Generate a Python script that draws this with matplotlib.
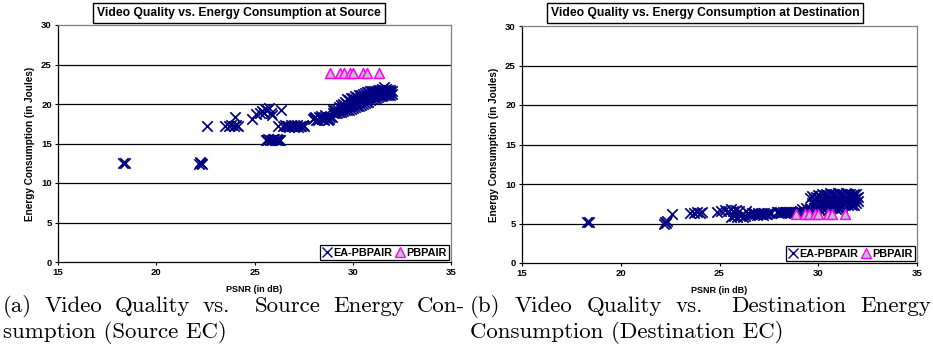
import matplotlib
matplotlib.use("Agg")
import matplotlib.pyplot as plt
from matplotlib.lines import Line2D

ANCHO, ALTO = 933, 345

x_ticks = [15, 20, 25, 30, 35]
y_ticks = [0, 5, 10, 15, 20, 25, 30]

titulo_src = "Video Quality vs. Energy Consumption at Source"
titulo_dst = "Video Quality vs. Energy Consumption at Destination"
etiqueta_x = "PSNR (in dB)"
etiqueta_y = "Energy Consumption (in Joules)"
series = ["EA-PBPAIR", "PBPAIR"]

# EA-PBPAIR en la fuente (PSNR, energia)
src_ea_psnr = [
    18.3, 18.4, 22.2, 22.3, 22.35, 22.25, 22.6, 23.5, 23.7, 23.8, 23.95, 24.05, 24.15, 24.0, 24.85,
    25.1, 25.3, 25.4, 25.5, 25.55, 25.65, 25.75, 25.85, 25.9, 26.35,
    25.6, 25.7, 25.8, 25.9, 26.0, 26.1, 26.2, 26.3, 25.65, 25.95, 26.15, 26.25,
    26.2, 26.45, 26.6, 26.75, 26.9, 27.05, 27.2, 27.35, 27.5,
    26.55, 26.7, 26.85, 27.0, 27.15, 27.3, 27.45,
    28.0, 28.1, 28.25, 28.4, 28.55, 28.7, 28.8, 28.95, 28.4, 28.6,
    28.05, 28.15, 28.3, 28.45, 28.6, 28.75, 28.85,
    29.0, 29.0, 29.2, 29.2, 29.4, 29.4, 29.4, 29.6, 29.6, 29.6, 29.8, 29.8, 29.8,
    30.0, 30.0, 30.0, 30.2, 30.2, 30.2, 30.4, 30.4, 30.4, 30.6, 30.6, 30.6,
    30.8, 30.8, 30.8, 31.0, 31.0, 31.0, 31.2, 31.2, 31.2, 31.4, 31.4, 31.4,
    31.6, 31.6, 31.6, 31.6, 31.8, 31.8, 31.8, 32.0, 32.0,
    29.1, 29.1, 29.3, 29.3, 29.5, 29.5, 29.5, 29.7, 29.7, 29.7, 29.9, 29.9, 29.9,
    30.1, 30.1, 30.1, 30.3, 30.3, 30.3, 30.5, 30.5, 30.5, 30.7, 30.7, 30.7,
    30.9, 30.9, 30.9, 31.1, 31.1, 31.1, 31.3, 31.3, 31.3, 31.5, 31.5, 31.5,
    31.7, 31.7, 31.7, 31.9, 31.9, 31.9,
]
src_ea_energy = [
    12.5, 12.5, 12.4, 12.5, 12.4, 12.6, 17.2, 17.2, 17.2, 17.3, 17.2, 17.3, 17.2, 18.3, 18.1,
    18.7, 18.9, 19.1, 18.8, 19.4, 19.2, 19.5, 18.9, 18.6, 19.3,
    15.5, 15.6, 15.4, 15.5, 15.6, 15.4, 15.5, 15.5, 15.4, 15.6, 15.6, 15.4,
    17.2, 17.2, 17.2, 17.1, 17.2, 17.2, 17.1, 17.2, 17.2,
    17.3, 17.2, 17.3, 17.1, 17.3, 17.2, 17.3,
    18.1, 18.3, 18.0, 18.2, 18.0, 18.3, 18.1, 18.4, 18.5, 18.6,
    18.2, 18.0, 18.3, 18.1, 18.2, 18.0, 18.4,
    18.8, 19.2, 18.9, 19.4, 19.0, 19.5, 19.9, 19.2, 19.7, 20.2, 19.3, 19.9, 20.5,
    19.5, 20.1, 20.7, 19.7, 20.3, 20.9, 19.9, 20.5, 21.2, 20.1, 20.7, 21.4,
    20.3, 20.9, 21.5, 20.6, 21.1, 21.6, 20.8, 21.3, 21.7, 21.0, 21.4, 21.8,
    21.1, 21.5, 21.8, 22.2, 21.1, 21.5, 21.8, 21.3, 21.6,
    18.9, 19.3, 19.0, 19.6, 19.1, 19.6, 20.0, 19.3, 20.0, 20.6, 19.4, 20.2, 20.8,
    19.6, 20.4, 21.0, 19.8, 20.6, 21.1, 20.0, 20.8, 21.3, 20.2, 21.0, 21.5,
    20.5, 21.2, 21.6, 20.7, 21.4, 21.7, 20.9, 21.5, 21.8, 21.0, 21.6, 21.9,
    21.1, 21.6, 21.9, 21.2, 21.5, 21.8,
]

# EA-PBPAIR en el destino
dst_ea_psnr = [
    18.3, 18.4, 22.2, 22.25, 22.3, 22.35, 22.6, 23.5, 23.7, 23.85, 24.0, 24.1, 24.85,
    25.1, 25.3, 25.45, 25.6, 25.7, 25.85, 26.0, 26.35,
    25.6, 25.75, 25.9, 26.05, 26.2, 26.3,
    26.5, 26.65, 26.8, 26.95, 27.1, 27.25, 27.4, 27.5,
    26.55, 26.75, 26.9, 27.05, 27.2, 27.35, 27.6,
    27.9, 28.05, 28.2, 28.35, 28.5, 28.65, 28.8, 28.95, 29.1,
    27.95, 28.1, 28.3, 28.45, 28.6, 28.75, 28.9,
    29.2, 29.4, 29.6, 29.8, 30.0, 30.2, 30.4, 30.6, 30.8, 31.0, 31.2,
    29.3, 29.5, 29.7, 29.9, 30.1, 30.3, 30.5, 30.7, 30.9, 31.1,
    29.6, 29.7, 29.7, 29.9, 29.9, 29.9, 30.1, 30.1, 30.1, 30.3, 30.3, 30.3,
    30.5, 30.5, 30.5, 30.7, 30.7, 30.7, 30.9, 30.9, 30.9, 31.1, 31.1, 31.1,
    31.3, 31.3, 31.3, 31.5, 31.5, 31.5, 31.7, 31.7, 31.7, 31.9, 31.9, 31.9,
    29.8, 29.8, 30.0, 30.0, 30.0, 30.2, 30.2, 30.2, 30.4, 30.4, 30.4,
    30.6, 30.6, 30.6, 30.8, 30.8, 30.8, 31.0, 31.0, 31.0, 31.2, 31.2, 31.2,
    31.4, 31.4, 31.4, 31.6, 31.6, 31.6, 31.8, 31.8, 31.8, 32.0, 32.0,
]
dst_ea_energy = [
    5.2, 5.2, 5.0, 5.2, 5.1, 5.3, 6.2, 6.3, 6.3, 6.4, 6.3, 6.4, 6.5,
    6.6, 6.7, 6.6, 6.8, 6.6, 6.7, 6.6, 6.6,
    5.8, 5.9, 5.8, 5.9, 5.8, 5.9,
    6.2, 6.3, 6.2, 6.3, 6.2, 6.3, 6.2, 6.3,
    6.1, 6.3, 6.1, 6.2, 6.1, 6.2, 6.3,
    6.4, 6.5, 6.4, 6.5, 6.4, 6.5, 6.4, 6.5, 6.6,
    6.5, 6.3, 6.4, 6.3, 6.4, 6.3, 6.4,
    6.8, 6.9, 6.8, 7.0, 6.9, 7.0, 6.9, 7.0, 7.1, 7.0, 7.1,
    6.6, 6.7, 6.6, 6.8, 6.7, 6.8, 6.7, 6.9, 6.8, 6.9,
    8.2, 7.6, 8.5, 7.3, 7.8, 8.4, 7.4, 7.9, 8.5, 7.4, 8.0, 8.6,
    7.5, 8.1, 8.6, 7.4, 8.0, 8.7, 7.5, 8.1, 8.6, 7.4, 8.0, 8.7,
    7.5, 8.1, 8.6, 7.4, 8.0, 8.7, 7.3, 7.9, 8.6, 7.6, 8.2, 8.7,
    7.5, 8.1, 7.6, 8.2, 8.6, 7.5, 8.2, 8.7, 7.6, 8.3, 8.7,
    7.6, 8.2, 8.8, 7.5, 8.3, 8.7, 7.6, 8.2, 8.8, 7.5, 8.3, 8.7,
    7.6, 8.2, 8.8, 7.5, 8.3, 8.7, 7.4, 8.1, 8.7, 7.8, 8.4,
]

# PBPAIR
pb_psnr = [28.85, 29.35, 29.55, 29.85, 30.0, 30.5, 30.7, 31.35]
src_pb_energy = [23.9, 23.9, 23.9, 23.9, 23.9, 23.9, 23.9, 23.9]
dst_pb_energy = [6.25, 6.25, 6.25, 6.25, 6.25, 6.25, 6.25, 6.25]

AZUL = "#000080"
MAGENTA = "#FF00FF"
GRIS = "#C0C0C0"
SANS = ["Liberation Sans", "DejaVu Sans"]

fig = plt.figure(figsize=(ANCHO / 100, ALTO / 100), dpi=100)


def dibujar_panel(caja, ea_x, ea_y, pb_x, pb_y):
    ax = fig.add_axes(caja)
    ax.set_xlim(x_ticks[0], x_ticks[-1])
    ax.set_ylim(y_ticks[0], y_ticks[-1])
    for y in y_ticks[1:-1]:
        ax.axhline(y, color="black", lw=0.9, zorder=1)
    ax.scatter(ea_x, ea_y, marker="x", s=56, c=AZUL, linewidths=1.25, zorder=3)
    ax.scatter(pb_x, pb_y, marker="^", s=50, facecolor=GRIS, edgecolor=MAGENTA,
               linewidths=1.1, zorder=4)
    ax.set_xticks(x_ticks)
    ax.set_yticks(y_ticks)
    for lbl in ax.get_xticklabels() + ax.get_yticklabels():
        lbl.set_fontfamily(SANS)
        lbl.set_fontweight("bold")
        lbl.set_fontsize(6.8)
    ax.tick_params(direction="out", length=2.5, width=0.8, pad=2)
    for lado in ["left", "bottom"]:
        ax.spines[lado].set_color("black")
        ax.spines[lado].set_linewidth(0.9)
    for lado in ["top", "right"]:
        ax.spines[lado].set_color("#808080")
        ax.spines[lado].set_linewidth(0.9)
    ax.set_xlabel(etiqueta_x, fontfamily=SANS, fontweight="bold", fontsize=6.5)
    ax.set_ylabel(etiqueta_y, fontfamily=SANS, fontweight="bold", fontsize=7.2)
    ax.xaxis.set_label_coords(0.5, -0.095)
    ax.yaxis.set_label_coords(-0.058, 0.5)

    manejadores = [
        Line2D([], [], ls="none", marker="x", color=AZUL, markersize=7, mew=1.0),
        Line2D([], [], ls="none", marker="^", markerfacecolor=GRIS,
               markeredgecolor=MAGENTA, markersize=7, mew=1.0),
    ]
    ley = ax.legend(manejadores, series, loc="lower right", ncol=2,
                    prop={"family": SANS, "weight": "bold", "size": 7.8},
                    handlelength=0.9, handletextpad=0.1, columnspacing=0.3,
                    borderpad=0.25, borderaxespad=0.15, fancybox=False,
                    framealpha=1, edgecolor="black")
    ley.get_frame().set_linewidth(0.9)
    return ax


ax1 = dibujar_panel([58 / ANCHO, 1 - 262 / ALTO, 393 / ANCHO, 237 / ALTO],
                    src_ea_psnr, src_ea_energy, pb_psnr, src_pb_energy)
ax2 = dibujar_panel([522 / ANCHO, 1 - 263 / ALTO, 395 / ANCHO, 237 / ALTO],
                    dst_ea_psnr, dst_ea_energy, pb_psnr, dst_pb_energy)

caja_titulo = dict(boxstyle="square,pad=0.3", fc="white", ec="black", lw=1.0)
fig.text(239 / ANCHO, 1 - 13 / ALTO, titulo_src, ha="center", va="center",
         fontfamily=SANS, fontweight="bold", fontsize=8.7, bbox=caja_titulo)
fig.text(705 / ANCHO, 1 - 13 / ALTO, titulo_dst, ha="center", va="center",
         fontfamily=SANS, fontweight="bold", fontsize=8.7, bbox=caja_titulo)

# Pies de figura estilo LaTeX (justificados)
TAM_PIE = 16.5


def linea_justificada(palabras, x0, x1, y_base):
    textos = [fig.text(0, 1 - y_base / ALTO, p, fontfamily="cmr10", fontsize=TAM_PIE,
                       ha="left", va="baseline") for p in palabras]
    r = fig.canvas.get_renderer()
    anchos = [t.get_window_extent(r).width for t in textos]
    pesos = [2.0 if p.endswith(".") else 1.0 for p in palabras[:-1]]
    hueco = (x1 - x0 - sum(anchos)) / sum(pesos)
    x = x0
    for i, t in enumerate(textos):
        t.set_x(x / ANCHO)
        if i < len(pesos):
            x += anchos[i] + hueco * pesos[i]


def linea_normal(texto, x0, y_base):
    fig.text(x0 / ANCHO, 1 - y_base / ALTO, texto, fontfamily="cmr10", fontsize=TAM_PIE,
             ha="left", va="baseline")


linea_justificada(["(a)", "Video", "Quality", "vs.", "Source", "Energy", "Con-"], 3, 465, 312)
linea_normal("sumption (Source EC)", 3, 338)
linea_justificada(["(b)", "Video", "Quality", "vs.", "Destination", "Energy"], 470, 931, 312)
linea_normal("Consumption (Destination EC)", 470, 338)

fig.savefig("out.png", dpi=100)
